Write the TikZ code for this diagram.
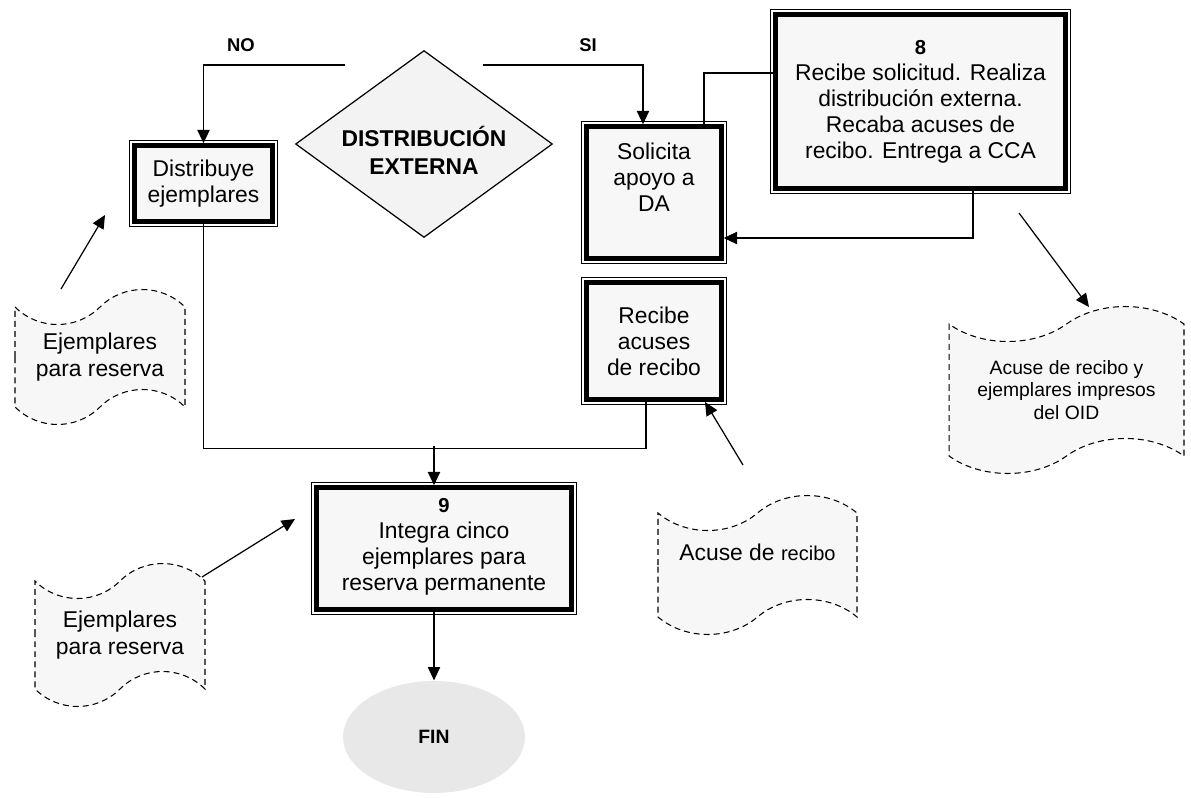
\documentclass[tikz,border=0pt]{standalone}
\usepackage{fontspec}
\setmainfont{Liberation Sans}
\usetikzlibrary{shapes.geometric,shapes.symbols,arrows.meta,calc}
\definecolor{relleno}{HTML}{F7F7F7}
\definecolor{rellenorombo}{HTML}{F3F3F3}
\definecolor{grisfin}{HTML}{E8E8E8}

\begin{document}
\begin{tikzpicture}[x=0.02cm,y=-0.02cm,line width=0.7pt,
	caja/.style={draw,line width=2.6pt,fill=relleno,align=center,inner sep=0pt,
		font=\fontsize{13}{14.8}\selectfont},
	documento/.style={tape,draw,dashed,dash pattern=on 3.4pt off 2.3pt,line width=0.6pt,
		fill=relleno,align=center,inner sep=0pt,tape bend height=0.7cm,
		font=\fontsize{13}{15.3}\selectfont},
	etiqueta/.style={font=\bfseries\fontsize{10.5}{12}\selectfont},
	flecha/.style={-{Triangle[length=7.6pt,width=7pt]}}]
	\useasboundingbox (0,0) rectangle (1191,798);
	
	% decision
	\node[diamond,draw,fill=rellenorombo,inner sep=0pt,align=center,aspect=1.37,
		minimum width=5.14cm,minimum height=3.74cm,text height=35pt,
		font=\bfseries\fontsize{13}{15.9}\selectfont] (dec) at (424,144) {DISTRIBUCIÓN\\EXTERNA};
	\node[etiqueta] (no) at (241,45) {NO};
	\node[etiqueta] (si) at (588,45) {SI};
	
	% cajas
	\node[caja,minimum width=2.76cm,minimum height=1.52cm] (dist) at (203.5,183.5) {Distribuye\\ejemplares};
	\node[caja,minimum width=2.70cm,minimum height=2.64cm,text depth=17pt] (sol) at (654,192.5) {Solicita\\apoyo a\\DA};
	\node[caja,minimum width=5.80cm,minimum height=3.48cm] (ocho) at (920.5,101.5)
		{{\bfseries\fontsize{11.5}{14.8}\selectfont 8}\\Recibe solicitud. Realiza\\distribución externa.\\Recaba acuses de\\recibo. Entrega a CCA};
	\node[caja,minimum width=2.70cm,minimum height=2.34cm] (rec) at (654,341) {Recibe\\acuses\\de recibo};
	\node[caja,minimum width=5.10cm,minimum height=2.44cm,text depth=5pt] (nueve) at (444,548.5)
		{{\bfseries\fontsize{11.5}{14.8}\selectfont 9}\\Integra cinco\\ejemplares para\\reserva permanente};
	\node[ellipse,fill=grisfin,minimum width=3.64cm,minimum height=2.24cm,
		font=\bfseries\fontsize{11}{13}\selectfont] (fin) at (434,737) {FIN};
	
	% marco exterior de las cajas
	\foreach \n in {dist,sol,ocho,rec,nueve}{
		\draw[line width=0.5pt] ([xshift=-1.5pt,yshift=1.5pt]\n.north west) rectangle ([xshift=1.5pt,yshift=-1.5pt]\n.south east);
	}
	
	% documentos
	\node[documento,minimum width=3.40cm,minimum height=2.70cm] (doc1) at (100,357) {Ejemplares\\para reserva};
	\node[documento,minimum width=3.40cm,minimum height=2.86cm] (doc2) at (120,635) {Ejemplares\\para reserva};
	\node[documento,minimum width=3.98cm,minimum height=2.78cm,text depth=14pt] (doc3) at (757.5,565)
		{Acuse de {\fontsize{11.4}{15}\selectfont recibo}};
	\node[documento,minimum width=4.70cm,minimum height=3.34cm,font=\fontsize{11}{12.8}\selectfont] (doc4) at (1066.5,390)
		{Acuse de recibo y\\ejemplares impresos\\del OID};
	
	% conectores
	\coordinate (noini) at (345,65);
	\coordinate (siini) at (483,65);
	\coordinate (union) at (434,446);
	\draw[flecha] (noini) -| (dist.north);
	\draw[flecha] (siini) -| ($(sol.north)+(-11,0)$);
	\draw ($(sol.north)+(50,0)$) |- ($(ocho.west)+(0,-28.5)$);
	\draw[flecha] ($(ocho.south)+(52.5,0)$) |- ($(sol.east)+(0,45.5)$);
	\draw (dist.south) |- ($(rec.south)+(-8,46.5)$) -- ($(rec.south)+(-8,0)$);
	\draw[flecha] (union) -- (union |- nueve.north);
	\draw[flecha] (union |- nueve.south) -- (fin.north);
	
	% flechas de los documentos
	\foreach \a/\b in {{61,289}/{105,215}, {202,577}/{295,519}, {743,465}/{705,402}, {1019,213}/{1089,307}}{
		\draw[flecha] (\a) -- (\b);
	}
\end{tikzpicture}
\end{document}
